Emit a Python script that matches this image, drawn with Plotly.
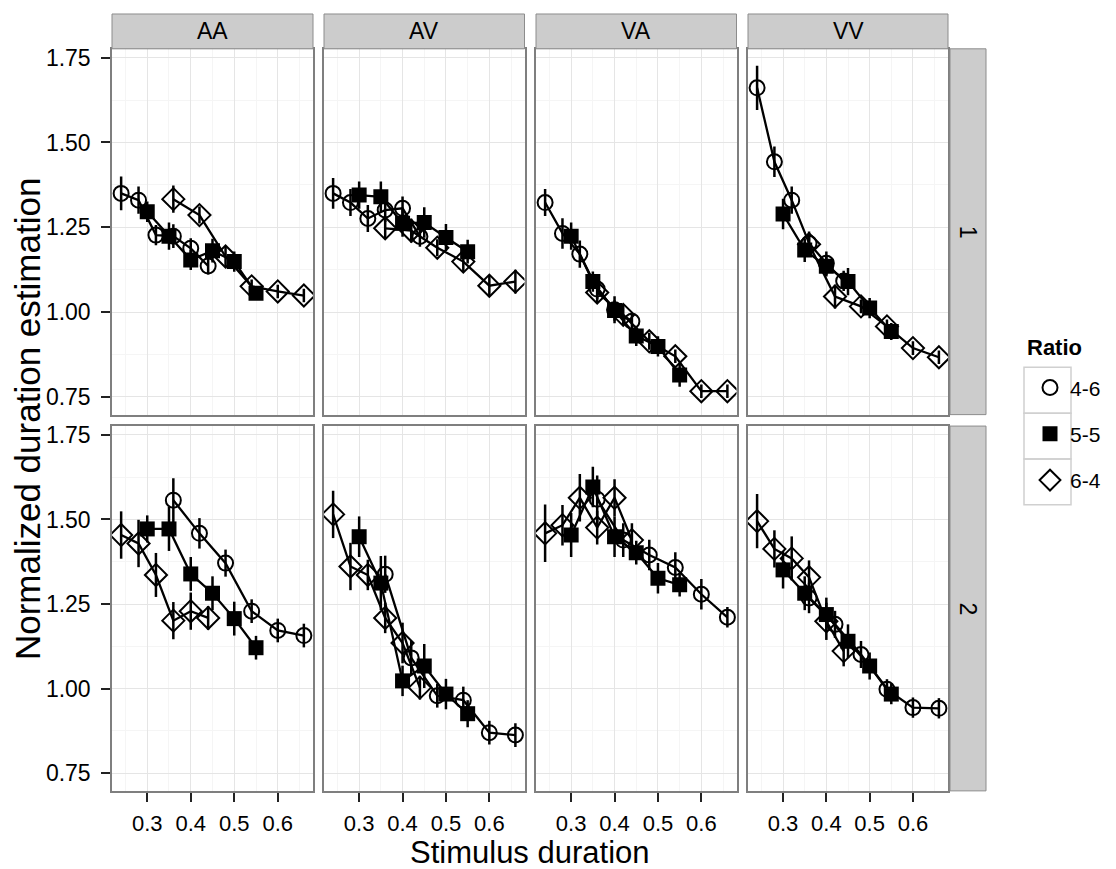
####################################
# FACETED DURATION ESTIMATION PLOT
####################################
import plotly.graph_objects as go

# page body has an 8px margin, so the figure is drawn 8px in from the corner
OFF = 8
W, H = 1116 - OFF, 869 - OFF

modalities = ['AA', 'AV', 'VA', 'VV']
rows = ['1', '2']
ratios = ['4-6', '5-5', '6-4']

# stimulus durations per ratio series
x_short = [0.24, 0.28, 0.32, 0.36, 0.40, 0.44]
x_mid = [0.30, 0.35, 0.40, 0.45, 0.50, 0.55]
x_long = [0.36, 0.42, 0.48, 0.54, 0.60, 0.66]

# row 1: 4-6 -> short, 5-5 -> mid, 6-4 -> long ; row 2 swapped
x_r1 = {'4-6': x_short, '5-5': x_mid, '6-4': x_long}
x_r2 = {'4-6': x_long, '5-5': x_mid, '6-4': x_short}

# mean normalized estimates, row 1
y_r1_AA = {'4-6': [1.350, 1.330, 1.227, 1.224, 1.188, 1.136],
           '5-5': [1.296, 1.224, 1.154, 1.181, 1.149, 1.056],
           '6-4': [1.333, 1.286, 1.164, 1.076, 1.061, 1.049]}
y_r1_AV = {'4-6': [1.350, 1.323, 1.276, 1.301, 1.306, 1.223],
           '5-5': [1.345, 1.340, 1.262, 1.264, 1.220, 1.178],
           '6-4': [1.247, 1.240, 1.190, 1.149, 1.078, 1.090]}
y_r1_VA = {'4-6': [1.323, 1.232, 1.171, 1.068, 1.007, 0.973],
           '5-5': [1.224, 1.090, 1.005, 0.930, 0.899, 0.815],
           '6-4': [1.058, 0.992, 0.914, 0.870, 0.767, 0.767]}
y_r1_VV = {'4-6': [1.661, 1.443, 1.330, 1.203, 1.144, 1.092],
           '5-5': [1.289, 1.183, 1.135, 1.090, 1.012, 0.943],
           '6-4': [1.200, 1.046, 1.017, 0.958, 0.894, 0.867]}

# row 2
y_r2_AA = {'4-6': [1.557, 1.459, 1.371, 1.229, 1.172, 1.157],
           '5-5': [1.472, 1.472, 1.339, 1.282, 1.207, 1.121],
           '6-4': [1.454, 1.429, 1.336, 1.201, 1.229, 1.209]}
y_r2_AV = {'4-6': [1.338, 1.091, 0.979, 0.966, 0.870, 0.863],
           '5-5': [1.449, 1.312, 1.023, 1.067, 0.984, 0.926],
           '6-4': [1.515, 1.361, 1.336, 1.209, 1.135, 1.003]}
y_r2_VA = {'4-6': [1.560, 1.439, 1.395, 1.358, 1.279, 1.211],
           '5-5': [1.454, 1.596, 1.449, 1.402, 1.326, 1.307],
           '6-4': [1.459, 1.483, 1.564, 1.476, 1.564, 1.439]}
y_r2_VV = {'4-6': [1.268, 1.190, 1.101, 0.998, 0.944, 0.942],
           '5-5': [1.351, 1.282, 1.219, 1.140, 1.067, 0.984],
           '6-4': [1.495, 1.413, 1.385, 1.329, 1.199, 1.111]}

# standard errors (half bar length)
e_r1_AA = {'4-6': [0.050, 0.040, 0.030, 0.035, 0.030, 0.025],
           '5-5': [0.030, 0.040, 0.030, 0.035, 0.030, 0.020],
           '6-4': [0.040, 0.025, 0.030, 0.020, 0.020, 0.020]}
e_r1_AV = {'4-6': [0.045, 0.040, 0.040, 0.035, 0.035, 0.030],
           '5-5': [0.040, 0.045, 0.040, 0.045, 0.040, 0.035],
           '6-4': [0.030, 0.035, 0.025, 0.030, 0.030, 0.035]}
e_r1_VA = {'4-6': [0.040, 0.045, 0.040, 0.030, 0.040, 0.025],
           '5-5': [0.040, 0.030, 0.030, 0.030, 0.030, 0.035],
           '6-4': [0.030, 0.030, 0.025, 0.020, 0.020, 0.020]}
e_r1_VV = {'4-6': [0.065, 0.045, 0.040, 0.035, 0.035, 0.030],
           '5-5': [0.045, 0.035, 0.030, 0.040, 0.030, 0.025],
           '6-4': [0.030, 0.035, 0.020, 0.020, 0.020, 0.020]}
e_r2_AA = {'4-6': [0.065, 0.045, 0.040, 0.035, 0.035, 0.035],
           '5-5': [0.040, 0.065, 0.050, 0.050, 0.050, 0.035],
           '6-4': [0.070, 0.070, 0.065, 0.055, 0.055, 0.035]}
e_r2_AV = {'4-6': [0.055, 0.050, 0.035, 0.040, 0.035, 0.035],
           '5-5': [0.060, 0.080, 0.045, 0.065, 0.045, 0.040],
           '6-4': [0.070, 0.070, 0.045, 0.045, 0.060, 0.035]}
e_r2_VA = {'4-6': [0.070, 0.050, 0.045, 0.045, 0.045, 0.030],
           '5-5': [0.065, 0.060, 0.060, 0.035, 0.045, 0.035],
           '6-4': [0.085, 0.060, 0.070, 0.050, 0.055, 0.050]}
e_r2_VV = {'4-6': [0.045, 0.040, 0.040, 0.030, 0.030, 0.030],
           '5-5': [0.055, 0.050, 0.050, 0.050, 0.040, 0.030],
           '6-4': [0.080, 0.055, 0.065, 0.050, 0.055, 0.045]}

y_data = {('1', 'AA'): y_r1_AA, ('1', 'AV'): y_r1_AV, ('1', 'VA'): y_r1_VA, ('1', 'VV'): y_r1_VV,
          ('2', 'AA'): y_r2_AA, ('2', 'AV'): y_r2_AV, ('2', 'VA'): y_r2_VA, ('2', 'VV'): y_r2_VV}
e_data = {('1', 'AA'): e_r1_AA, ('1', 'AV'): e_r1_AV, ('1', 'VA'): e_r1_VA, ('1', 'VV'): e_r1_VV,
          ('2', 'AA'): e_r2_AA, ('2', 'AV'): e_r2_AV, ('2', 'VA'): e_r2_VA, ('2', 'VV'): e_r2_VV}
x_data = {'1': x_r1, '2': x_r2}

markers = {'4-6': dict(symbol='circle-open', size=15, color='black', line=dict(width=2, color='black')),
           '5-5': dict(symbol='square', size=15, color='black', line=dict(width=0)),
           '6-4': dict(symbol='diamond-open', size=17, color='black', line=dict(width=2, color='black'))}

FONT = 'Liberation Sans, Arial, Helvetica, sans-serif'

# panel geometry in (reference) pixels
col_px = [(112, 313), (324, 524.5), (536, 736.5), (748, 948)]
row_px = [(45, 412.5), (424, 790.5)]


def px_x(p):
    return (p - OFF) / W


def px_y(p):
    return 1 - (p - OFF) / H


fig = go.Figure()
layout = {}

for r, row in enumerate(rows):
    for c, mod in enumerate(modalities):
        i = r * 4 + c + 1
        sfx = '' if i == 1 else str(i)
        for ratio in ratios:
            fig.add_trace(go.Scatter(
                x=x_data[row][ratio],
                y=y_data[(row, mod)][ratio],
                error_y=dict(type='data', array=e_data[(row, mod)][ratio],
                             thickness=2.5, width=0, color='black'),
                mode='lines+markers',
                line=dict(color='black', width=2.3),
                marker=markers[ratio],
                xaxis='x' + sfx, yaxis='y' + sfx,
                showlegend=False,
                hoverinfo='skip'))
        x0, x1 = col_px[c]
        y0, y1 = row_px[r]
        layout['xaxis' + sfx] = dict(
            domain=[px_x(x0), px_x(x1)], anchor='y' + sfx,
            range=[0.219, 0.681], dtick=0.1, tick0=0,
            showgrid=True, gridcolor='#E5E5E5', gridwidth=1.2,
            minor=dict(dtick=0.05, tick0=0, showgrid=True, gridcolor='#F5F5F5', gridwidth=1),
            zeroline=False, showline=True, mirror=True, linecolor='#7F7F7F', linewidth=1.5,
            ticks='outside' if r == 1 else '', ticklen=9, tickwidth=2, tickcolor='#222',
            showticklabels=(r == 1), ticklabelstandoff=3,
            tickfont=dict(family=FONT, size=22, color='black'))
        layout['yaxis' + sfx] = dict(
            domain=[px_y(y1), px_y(y0)], anchor='x' + sfx,
            range=[0.698, 1.776], dtick=0.25, tick0=0, tickformat='.2f',
            showgrid=True, gridcolor='#E5E5E5', gridwidth=1.2,
            minor=dict(dtick=0.125, tick0=0, showgrid=True, gridcolor='#F5F5F5', gridwidth=1),
            zeroline=False, showline=True, mirror=True, linecolor='#7F7F7F', linewidth=1.5,
            ticks='outside' if c == 0 else '', ticklen=9, tickwidth=2, tickcolor='#222',
            showticklabels=(c == 0), ticklabelstandoff=6,
            tickfont=dict(family=FONT, size=23, color='black'))

# legend-only entries (points only, like the ggplot key)
for ratio in ratios:
    fig.add_trace(go.Scatter(x=[None], y=[None], mode='markers', marker=markers[ratio],
                             name=ratio, legendgroup=ratio, showlegend=True))

shapes = []
annotations = []

# column strips
for c, mod in enumerate(modalities):
    x0, x1 = col_px[c]
    shapes.append(dict(type='rect', xref='paper', yref='paper',
                       x0=px_x(x0), x1=px_x(x1), y0=px_y(45), y1=px_y(10),
                       fillcolor='#CCCCCC', line=dict(color='#8C8C8C', width=1)))
    annotations.append(dict(xref='paper', yref='paper', x=px_x((x0 + x1) / 2), y=px_y(27),
                            xanchor='center', yanchor='middle',
                            text=mod, showarrow=False,
                            font=dict(family=FONT, size=23, color='black')))

# row strips
for r, row in enumerate(rows):
    y0, y1 = row_px[r]
    shapes.append(dict(type='rect', xref='paper', yref='paper',
                       x0=px_x(950), x1=px_x(986), y0=px_y(y1), y1=px_y(y0),
                       fillcolor='#CCCCCC', line=dict(color='#8C8C8C', width=1)))
    annotations.append(dict(xref='paper', yref='paper', x=px_x(968), y=px_y((y0 + y1) / 2),
                            xanchor='center', yanchor='middle',
                            text=row, showarrow=False, textangle=90,
                            font=dict(family=FONT, size=23, color='black')))

# legend title and key boxes
annotations.append(dict(xref='paper', yref='paper', x=px_x(1025), y=px_y(345),
                        xanchor='left', yanchor='middle',
                        text='<b>Ratio</b>', showarrow=False,
                        font=dict(family=FONT, size=22, color='black')))
for k in range(3):
    top = 365 + k * 46
    shapes.append(dict(type='rect', xref='paper', yref='paper',
                       x0=px_x(1024), x1=px_x(1071), y0=px_y(top + 46), y1=px_y(top),
                       fillcolor='rgba(0,0,0,0)', line=dict(color='#D0D0D0', width=1.5)))

# axis titles
annotations.append(dict(xref='paper', yref='paper', x=px_x(530), y=px_y(852),
                        xanchor='center', yanchor='middle',
                        text='Stimulus duration', showarrow=False,
                        font=dict(family=FONT, size=31, color='black')))
annotations.append(dict(xref='paper', yref='paper', x=px_x(27), y=px_y(417),
                        xanchor='center', yanchor='middle',
                        text='Normalized duration estimation', showarrow=False, textangle=-90,
                        font=dict(family=FONT, size=35, color='black')))

fig.update_layout(
    width=W, height=H,
    margin=dict(l=0, r=0, t=0, b=0),
    paper_bgcolor='white', plot_bgcolor='white',
    shapes=shapes, annotations=annotations,
    showlegend=True,
    legend=dict(x=px_x(1030), y=px_y(365), xanchor='left', yanchor='top',
                font=dict(family=FONT, size=21, color='black'),
                traceorder='grouped', tracegroupgap=16,
                bgcolor='rgba(0,0,0,0)'),
    **layout)

fig.write_html("out.html")
